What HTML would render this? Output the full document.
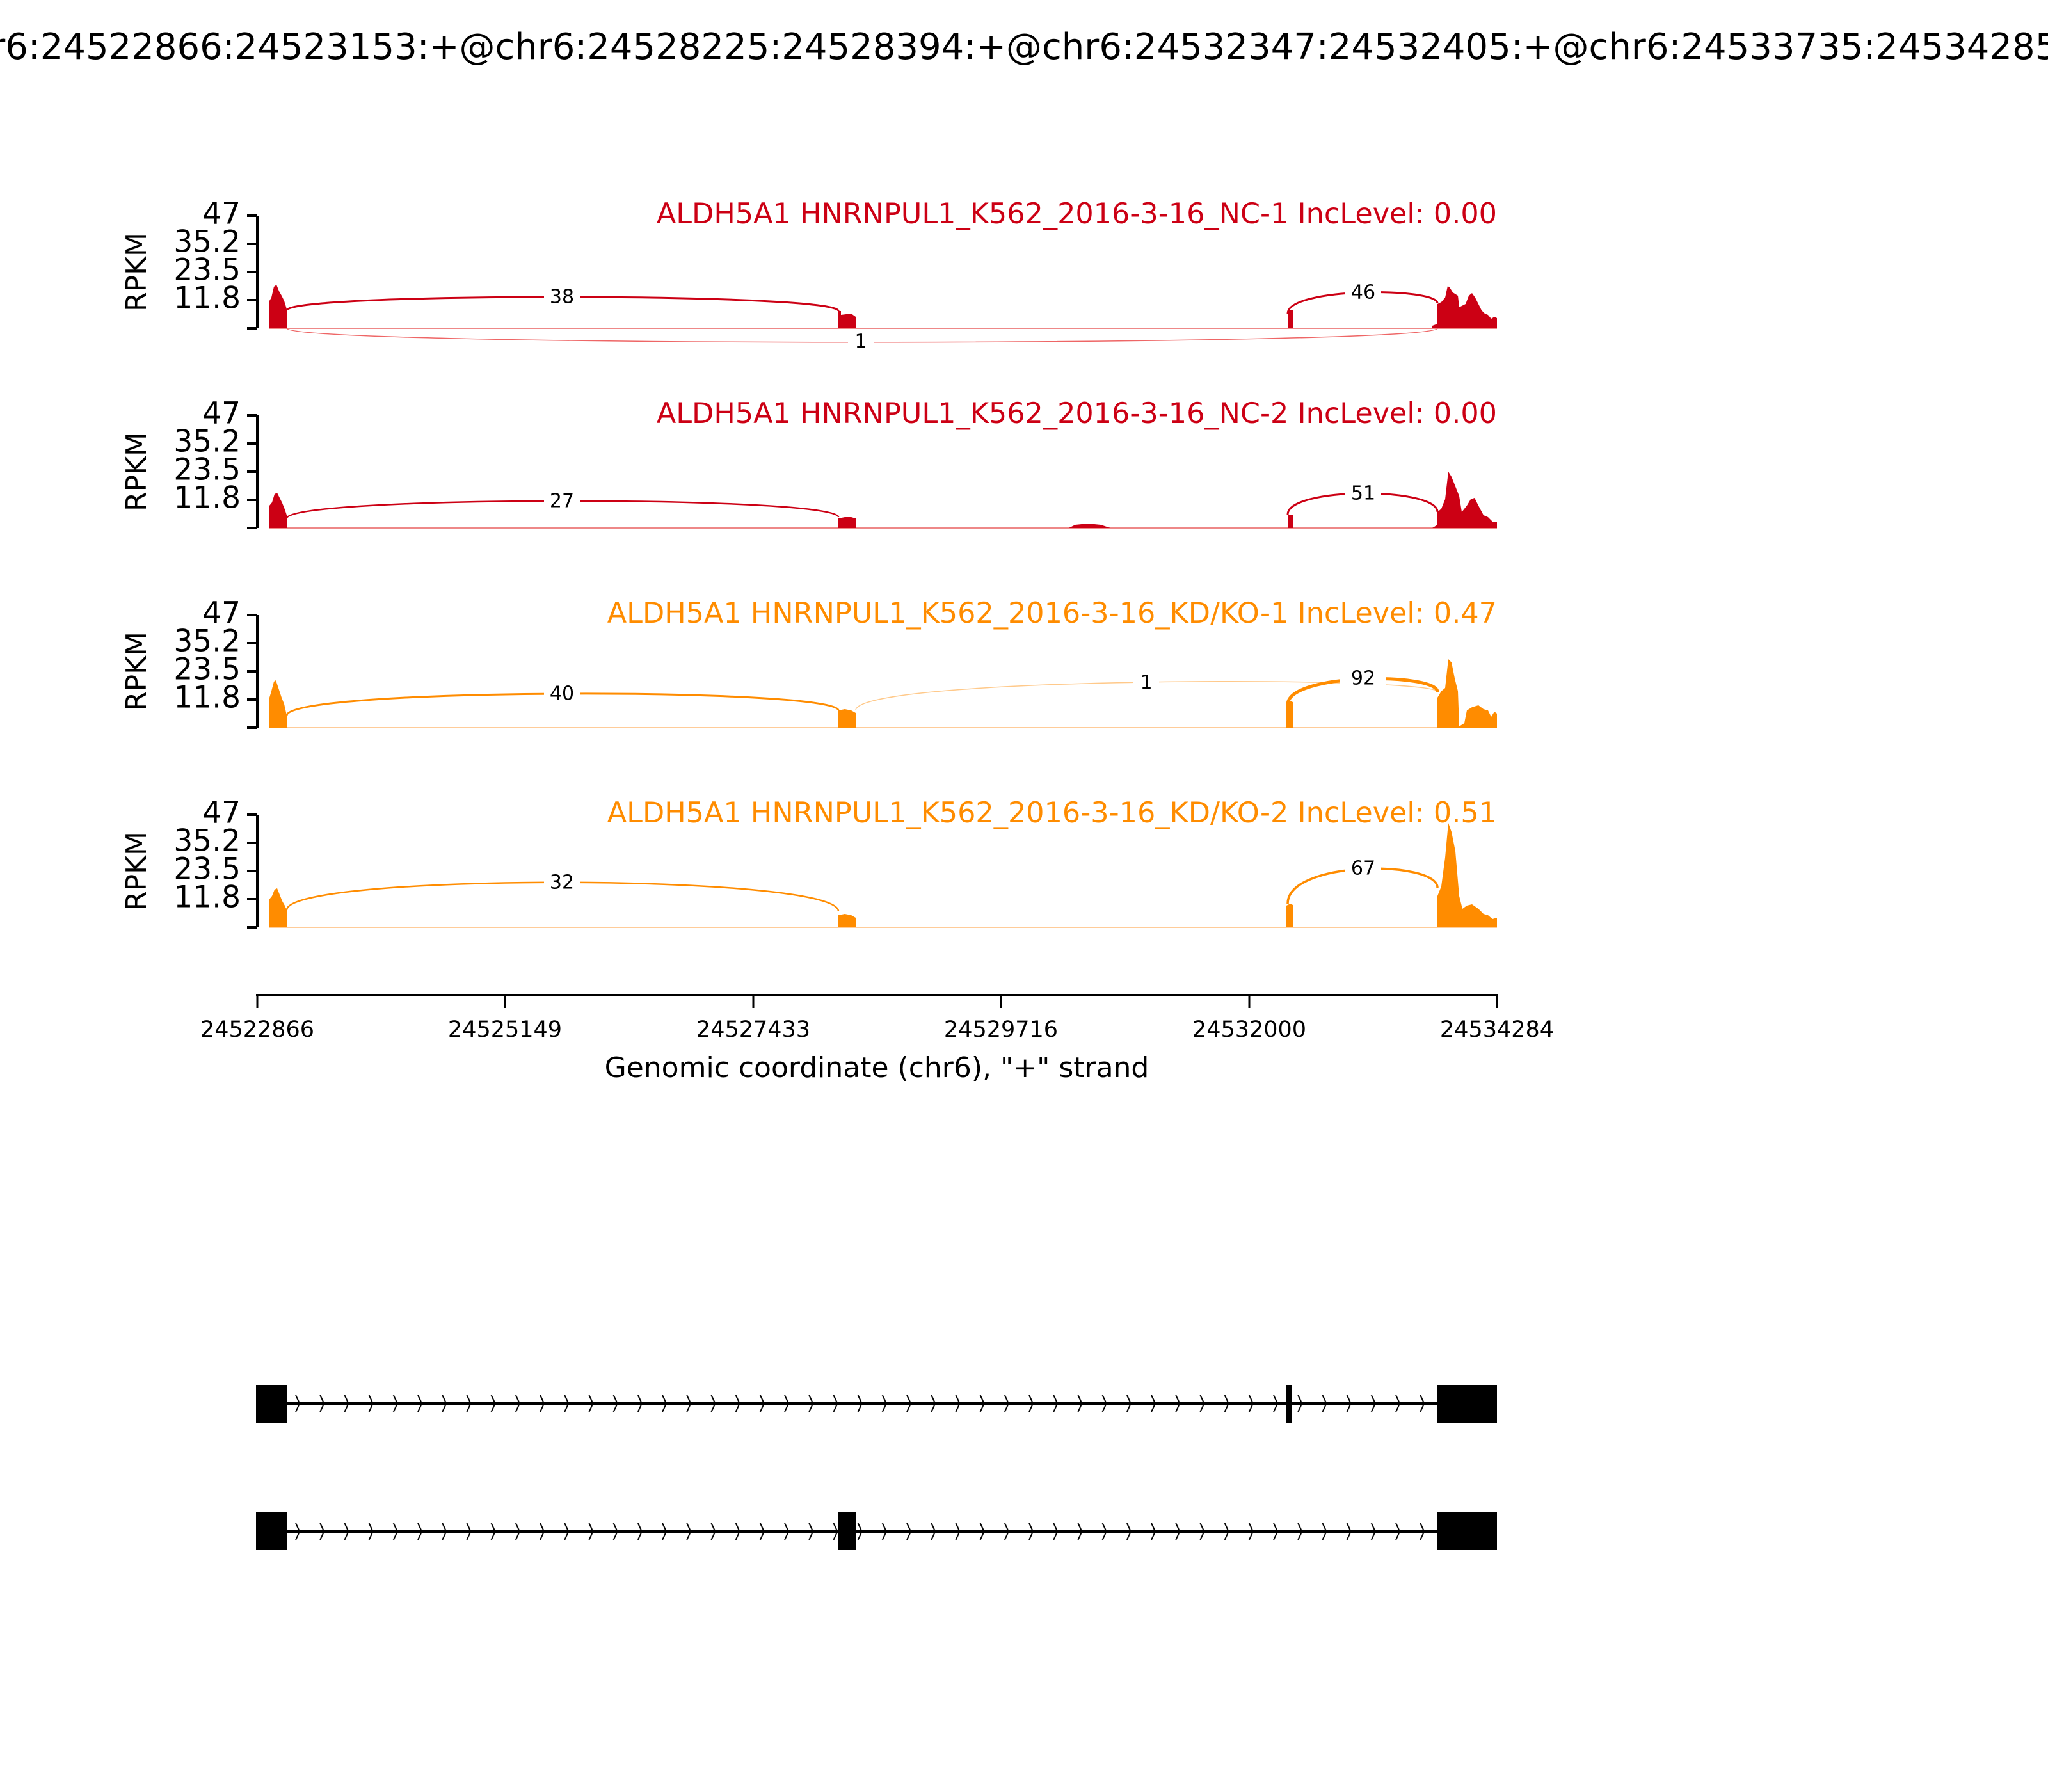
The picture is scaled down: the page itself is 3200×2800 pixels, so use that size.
<!DOCTYPE html>
<html><head><meta charset="utf-8"><style>
html,body{margin:0;padding:0;background:#fff;}
svg{display:block;font-family:"DejaVu Sans","Liberation Sans",sans-serif;}
</style></head><body>
<svg width="3200" height="2800" viewBox="0 0 3200 2800" xmlns="http://www.w3.org/2000/svg">
<defs>
<pattern id="chev" x="460" y="0" width="38.2" height="2800" patternUnits="userSpaceOnUse">
<path d="M2,2180 Q5,2186 8,2193 Q5,2200 2,2206" fill="none" stroke="#000" stroke-width="2"/>
<path d="M2,2380 Q5,2386 8,2393 Q5,2400 2,2406" fill="none" stroke="#000" stroke-width="2"/>
</pattern>
</defs>
<text x="1600" y="92" text-anchor="middle" font-size="56">chr6:24522866:24523153:+@chr6:24528225:24528394:+@chr6:24532347:24532405:+@chr6:24533735:24534285:+</text>

<!-- Panel 1 -->
<g>
<line x1="402" y1="337" x2="402" y2="513" stroke="#000" stroke-width="4"/>
<g stroke="#000" stroke-width="4"><line x1="386" y1="337" x2="402" y2="337"/><line x1="386" y1="381" x2="402" y2="381"/><line x1="386" y1="425" x2="402" y2="425"/><line x1="386" y1="469" x2="402" y2="469"/><line x1="386" y1="513" x2="402" y2="513"/></g>
<g font-size="47" text-anchor="end" dominant-baseline="middle"><text x="376" y="337">47</text><text x="376" y="381">35.2</text><text x="376" y="425">23.5</text><text x="376" y="469">11.8</text></g>
<text transform="translate(228,425) rotate(-90)" font-size="44" text-anchor="middle">RPKM</text>
<text x="2339" y="349" font-size="44.5" text-anchor="end" fill="#cc0014">ALDH5A1 HNRNPUL1_K562_2016-3-16_NC-1 IncLevel: 0.00</text>
<line x1="421" y1="513" x2="2339" y2="513" stroke="#e88" stroke-width="2"/>
<g fill="#cc0014">
<polygon points="421,513 421,470 424,465 428,448 432,445 436,455 440,462 444,470 448,483 448,513"/>
<polygon points="1310,513 1310,486 1314,486 1314,513"/>
<polygon points="1314,513 1314,492 1330,490 1337,495 1337,513"/>
<polygon points="2012,513 2012,485 2020,485 2020,513"/>
<polygon points="2238,513 2238,509 2246,506 2246,475 2252,472 2258,465 2262,447 2265,449 2270,457 2278,462 2280,480 2290,475 2295,462 2300,458 2305,465 2310,475 2315,485 2320,490 2325,492 2330,498 2335,495 2339,497 2339,513"/>
</g>
<path d="M448,513 C448,542 2246,542 2246,513" fill="none" stroke="#e66" stroke-width="1.5"/>
<path d="M448,485 C448,456.8 1310,456.8 1310,486" fill="none" stroke="#cc0014" stroke-width="3"/>
<path d="M2012,490 C2012,448.7 2246,448.7 2246,474" fill="none" stroke="#cc0014" stroke-width="3"/>
<g font-size="30" text-anchor="middle" dominant-baseline="middle">
<rect x="850" y="448" width="56" height="32" fill="#fff"/><text x="878" y="465">38</text>
<rect x="1325" y="519" width="40" height="32" fill="#fff"/><text x="1345" y="535">1</text>
<rect x="2102" y="441" width="56" height="32" fill="#fff"/><text x="2130" y="458">46</text>
</g>
</g>

<!-- Panel 2 -->
<g>
<line x1="402" y1="649" x2="402" y2="825" stroke="#000" stroke-width="4"/>
<g stroke="#000" stroke-width="4"><line x1="386" y1="649" x2="402" y2="649"/><line x1="386" y1="693" x2="402" y2="693"/><line x1="386" y1="737" x2="402" y2="737"/><line x1="386" y1="781" x2="402" y2="781"/><line x1="386" y1="825" x2="402" y2="825"/></g>
<g font-size="47" text-anchor="end" dominant-baseline="middle"><text x="376" y="649">47</text><text x="376" y="693">35.2</text><text x="376" y="737">23.5</text><text x="376" y="781">11.8</text></g>
<text transform="translate(228,737) rotate(-90)" font-size="44" text-anchor="middle">RPKM</text>
<text x="2339" y="661" font-size="44.5" text-anchor="end" fill="#cc0014">ALDH5A1 HNRNPUL1_K562_2016-3-16_NC-2 IncLevel: 0.00</text>
<line x1="421" y1="825" x2="2339" y2="825" stroke="#e88" stroke-width="2"/>
<g fill="#cc0014">
<polygon points="421,825 421,790 425,785 429,772 433,770 437,778 441,786 445,796 448,805 448,825"/>
<polygon points="1310,825 1310,810 1320,808 1330,808 1337,810 1337,825"/>
<polygon points="2012,825 2012,805 2020,805 2020,825"/>
<polygon points="1670,825 1680,820 1700,818 1720,820 1735,825"/>
<polygon points="2238,825 2246,820 2246,800 2252,795 2258,780 2263,737 2268,745 2274,760 2280,775 2284,800 2292,790 2298,780 2304,778 2310,790 2318,805 2325,808 2332,815 2339,815 2339,825"/>
</g>
<path d="M448,810 C448,774 1310,774 1310,808" fill="none" stroke="#cc0014" stroke-width="2.5"/>
<path d="M2012,804 C2012,760.7 2246,760.7 2246,800" fill="none" stroke="#cc0014" stroke-width="3"/>
<g font-size="30" text-anchor="middle" dominant-baseline="middle">
<rect x="850" y="767" width="56" height="32" fill="#fff"/><text x="878" y="784">27</text>
<rect x="2102" y="755" width="56" height="32" fill="#fff"/><text x="2130" y="772">51</text>
</g>
</g>

<!-- Panel 3 -->
<g>
<line x1="402" y1="961" x2="402" y2="1137" stroke="#000" stroke-width="4"/>
<g stroke="#000" stroke-width="4"><line x1="386" y1="961" x2="402" y2="961"/><line x1="386" y1="1005" x2="402" y2="1005"/><line x1="386" y1="1049" x2="402" y2="1049"/><line x1="386" y1="1093" x2="402" y2="1093"/><line x1="386" y1="1137" x2="402" y2="1137"/></g>
<g font-size="47" text-anchor="end" dominant-baseline="middle"><text x="376" y="961">47</text><text x="376" y="1005">35.2</text><text x="376" y="1049">23.5</text><text x="376" y="1093">11.8</text></g>
<text transform="translate(228,1049) rotate(-90)" font-size="44" text-anchor="middle">RPKM</text>
<text x="2339" y="973" font-size="44.5" text-anchor="end" fill="#ff8c00">ALDH5A1 HNRNPUL1_K562_2016-3-16_KD/KO-1 IncLevel: 0.47</text>
<line x1="421" y1="1137" x2="2339" y2="1137" stroke="#fc9" stroke-width="2"/>
<g fill="#ff8c00">
<polygon points="421,1137 421,1090 424,1080 428,1065 431,1063 435,1075 440,1090 444,1100 448,1118 448,1137"/>
<polygon points="1310,1137 1310,1110 1320,1108 1330,1110 1337,1114 1337,1137"/>
<polygon points="2010,1137 2010,1100 2016,1095 2020,1097 2020,1137"/>
<polygon points="2246,1137 2246,1090 2252,1080 2258,1075 2263,1030 2268,1035 2273,1060 2278,1080 2280,1135 2288,1130 2292,1110 2300,1105 2310,1102 2318,1108 2325,1110 2330,1120 2335,1112 2339,1115 2339,1137"/>
</g>
<path d="M1337,1110 C1337,1056 2246,1056 2246,1081" fill="none" stroke="#ffc98a" stroke-width="1.5"/>
<path d="M448,1118 C448,1074 1310,1074 1310,1110" fill="none" stroke="#ff8c00" stroke-width="3"/>
<path d="M2012,1101 C2012,1051 2246,1051 2246,1081" fill="none" stroke="#ff8c00" stroke-width="5"/>
<g font-size="30" text-anchor="middle" dominant-baseline="middle">
<rect x="850" y="1068" width="56" height="32" fill="#fff"/><text x="878" y="1085">40</text>
<rect x="1771" y="1052" width="40" height="32" fill="#fff"/><text x="1791" y="1068">1</text>
<rect x="2094" y="1044" width="72" height="32" fill="#fff"/><text x="2130" y="1061">92</text>
</g>
</g>

<!-- Panel 4 -->
<g>
<line x1="402" y1="1273" x2="402" y2="1449" stroke="#000" stroke-width="4"/>
<g stroke="#000" stroke-width="4"><line x1="386" y1="1273" x2="402" y2="1273"/><line x1="386" y1="1317" x2="402" y2="1317"/><line x1="386" y1="1361" x2="402" y2="1361"/><line x1="386" y1="1405" x2="402" y2="1405"/><line x1="386" y1="1449" x2="402" y2="1449"/></g>
<g font-size="47" text-anchor="end" dominant-baseline="middle"><text x="376" y="1273">47</text><text x="376" y="1317">35.2</text><text x="376" y="1361">23.5</text><text x="376" y="1405">11.8</text></g>
<text transform="translate(228,1361) rotate(-90)" font-size="44" text-anchor="middle">RPKM</text>
<text x="2339" y="1285" font-size="44.5" text-anchor="end" fill="#ff8c00">ALDH5A1 HNRNPUL1_K562_2016-3-16_KD/KO-2 IncLevel: 0.51</text>
<line x1="421" y1="1449" x2="2339" y2="1449" stroke="#fc9" stroke-width="2"/>
<g fill="#ff8c00">
<polygon points="421,1449 421,1405 425,1400 429,1390 433,1388 437,1398 441,1408 445,1415 448,1422 448,1449"/>
<polygon points="1310,1449 1310,1430 1320,1428 1330,1430 1337,1434 1337,1449"/>
<polygon points="2010,1449 2010,1415 2016,1412 2020,1414 2020,1449"/>
<polygon points="2246,1449 2246,1400 2252,1385 2258,1340 2263,1286 2268,1300 2274,1330 2280,1400 2285,1420 2292,1415 2300,1413 2310,1420 2318,1428 2325,1430 2332,1436 2339,1434 2339,1449"/>
</g>
<path d="M448,1422 C448,1364 1310,1364 1310,1424" fill="none" stroke="#ff8c00" stroke-width="2.5"/>
<path d="M2012,1412 C2012,1344 2246,1344 2246,1387" fill="none" stroke="#ff8c00" stroke-width="3.5"/>
<g font-size="30" text-anchor="middle" dominant-baseline="middle">
<rect x="850" y="1363" width="56" height="32" fill="#fff"/><text x="878" y="1380">32</text>
<rect x="2102" y="1342" width="56" height="32" fill="#fff"/><text x="2130" y="1358">67</text>
</g>
</g>

<!-- X axis -->
<line x1="400" y1="1555" x2="2341" y2="1555" stroke="#000" stroke-width="4"/>
<g stroke="#000" stroke-width="3">
<line x1="402" y1="1555" x2="402" y2="1575"/><line x1="789" y1="1555" x2="789" y2="1575"/><line x1="1177" y1="1555" x2="1177" y2="1575"/><line x1="1564" y1="1555" x2="1564" y2="1575"/><line x1="1952" y1="1555" x2="1952" y2="1575"/><line x1="2339" y1="1555" x2="2339" y2="1575"/>
</g>
<g font-size="35" text-anchor="middle">
<text x="402" y="1620">24522866</text><text x="789" y="1620">24525149</text><text x="1177" y="1620">24527433</text><text x="1564" y="1620">24529716</text><text x="1952" y="1620">24532000</text><text x="2339" y="1620">24534284</text>
</g>
<text x="1370" y="1683" font-size="44" text-anchor="middle">Genomic coordinate (chr6), "+" strand</text>

<!-- Gene structures -->
<rect x="447" y="2178" width="1800" height="30" fill="url(#chev)"/>
<rect x="447" y="2378" width="1800" height="30" fill="url(#chev)"/>
<line x1="447" y1="2193" x2="2246" y2="2193" stroke="#000" stroke-width="4"/>
<line x1="447" y1="2393" x2="2246" y2="2393" stroke="#000" stroke-width="4"/>
<rect x="400" y="2164" width="48" height="59" fill="#000"/>
<rect x="2010" y="2164" width="8" height="59" fill="#000"/>
<rect x="2246" y="2164" width="93" height="59" fill="#000"/>
<rect x="400" y="2363" width="48" height="59" fill="#000"/>
<rect x="1310" y="2363" width="27" height="59" fill="#000"/>
<rect x="2246" y="2363" width="93" height="59" fill="#000"/>
</svg>
</body></html>
